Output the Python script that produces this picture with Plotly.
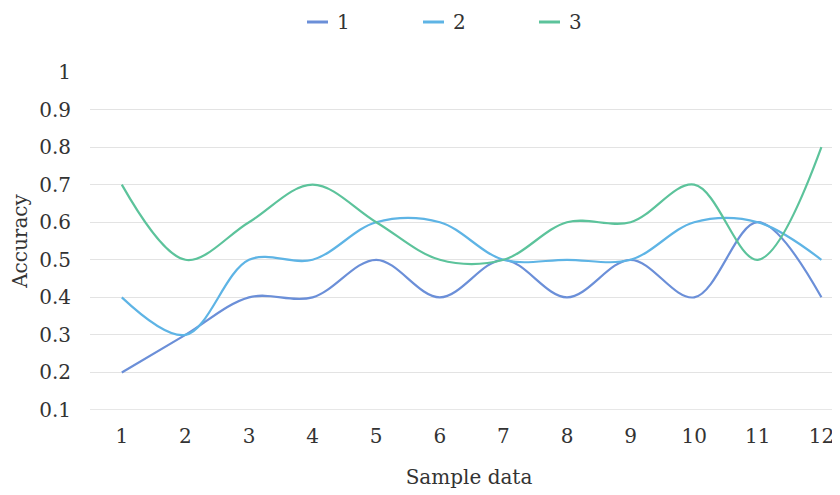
import plotly.graph_objects as go

samples = list(range(1, 13))
series_names = ["1", "2", "3"]
acc_1 = [0.2, 0.3, 0.4, 0.4, 0.5, 0.4, 0.5, 0.4, 0.5, 0.4, 0.6, 0.4]
acc_2 = [0.4, 0.3, 0.5, 0.5, 0.6, 0.6, 0.5, 0.5, 0.5, 0.6, 0.6, 0.5]
acc_3 = [0.7, 0.5, 0.6, 0.7, 0.6, 0.5, 0.5, 0.6, 0.6, 0.7, 0.5, 0.8]
y_ticks = [0.1, 0.2, 0.3, 0.4, 0.5, 0.6, 0.7, 0.8, 0.9, 1.0]
y_tick_labels = ["0.1", "0.2", "0.3", "0.4", "0.5", "0.6", "0.7", "0.8", "0.9", "1"]

colors = ["#6B8FD8", "#5EB4E5", "#5CC39B"]
font_family = "DejaVu Serif"
text_color = "#333333"

# the page has an 8px body margin; figure coordinates compensate for it
OFF = 8
W, H = 840, 495
L, R, T, B = 90 - OFF, 0, 72 - OFF, 495 - (410 - OFF)
pw, ph = W - L - R, H - T - B

fig = go.Figure()
for name, vals, c in zip(series_names, [acc_1, acc_2, acc_3], colors):
    fig.add_trace(go.Scatter(
        x=samples, y=vals, name=name, mode="lines",
        line=dict(color=c, width=2.2, shape="spline", smoothing=1.0),
        showlegend=False,
    ))

fig.update_layout(
    width=W, height=H,
    paper_bgcolor="white", plot_bgcolor="white",
    margin=dict(l=L, r=R, t=T, b=B),
    font=dict(family=font_family, size=20, color=text_color),
    showlegend=False,
)
fig.update_xaxes(
    range=[0.5, 0.5 + pw / 63.6], tickmode="array", tickvals=samples,
    ticktext=[str(s) for s in samples], automargin=False,
    showgrid=False, zeroline=False, showline=False, ticks="",
    ticklabelstandoff=12,
    title=dict(text="Sample data", font=dict(size=20), standoff=22),
)
fig.update_yaxes(
    range=[0.1, 1.0], tickmode="array", tickvals=y_ticks, ticktext=y_tick_labels,
    showgrid=True, gridcolor="#E3E3E3", gridwidth=1, zeroline=False, automargin=False,
    showline=False, ticks="", ticklabelstandoff=18,
    title=dict(text="Accuracy", font=dict(size=20), standoff=10),
)
fig.add_shape(type="line", xref="paper", yref="y", x0=0, x1=1, y0=0.1, y1=0.1,
              line=dict(color="#D0D0D0", width=1.2))

def px_x(p):
    return (p - OFF - L) / pw

def px_y(p):
    return (H - B - (p - OFF)) / ph

leg_sym_x = [307, 423, 539]
ly = 22
for name, c, sx in zip(series_names, colors, leg_sym_x):
    fig.add_shape(type="line", xref="paper", yref="paper",
                  x0=px_x(sx), x1=px_x(sx + 21), y0=px_y(ly), y1=px_y(ly),
                  line=dict(color=c, width=3))
    fig.add_annotation(xref="paper", yref="paper", x=px_x(sx + 28), y=px_y(ly),
                       text=name, showarrow=False, xanchor="left", yanchor="middle",
                       font=dict(size=20, color=text_color))

fig.write_html("out.html")
